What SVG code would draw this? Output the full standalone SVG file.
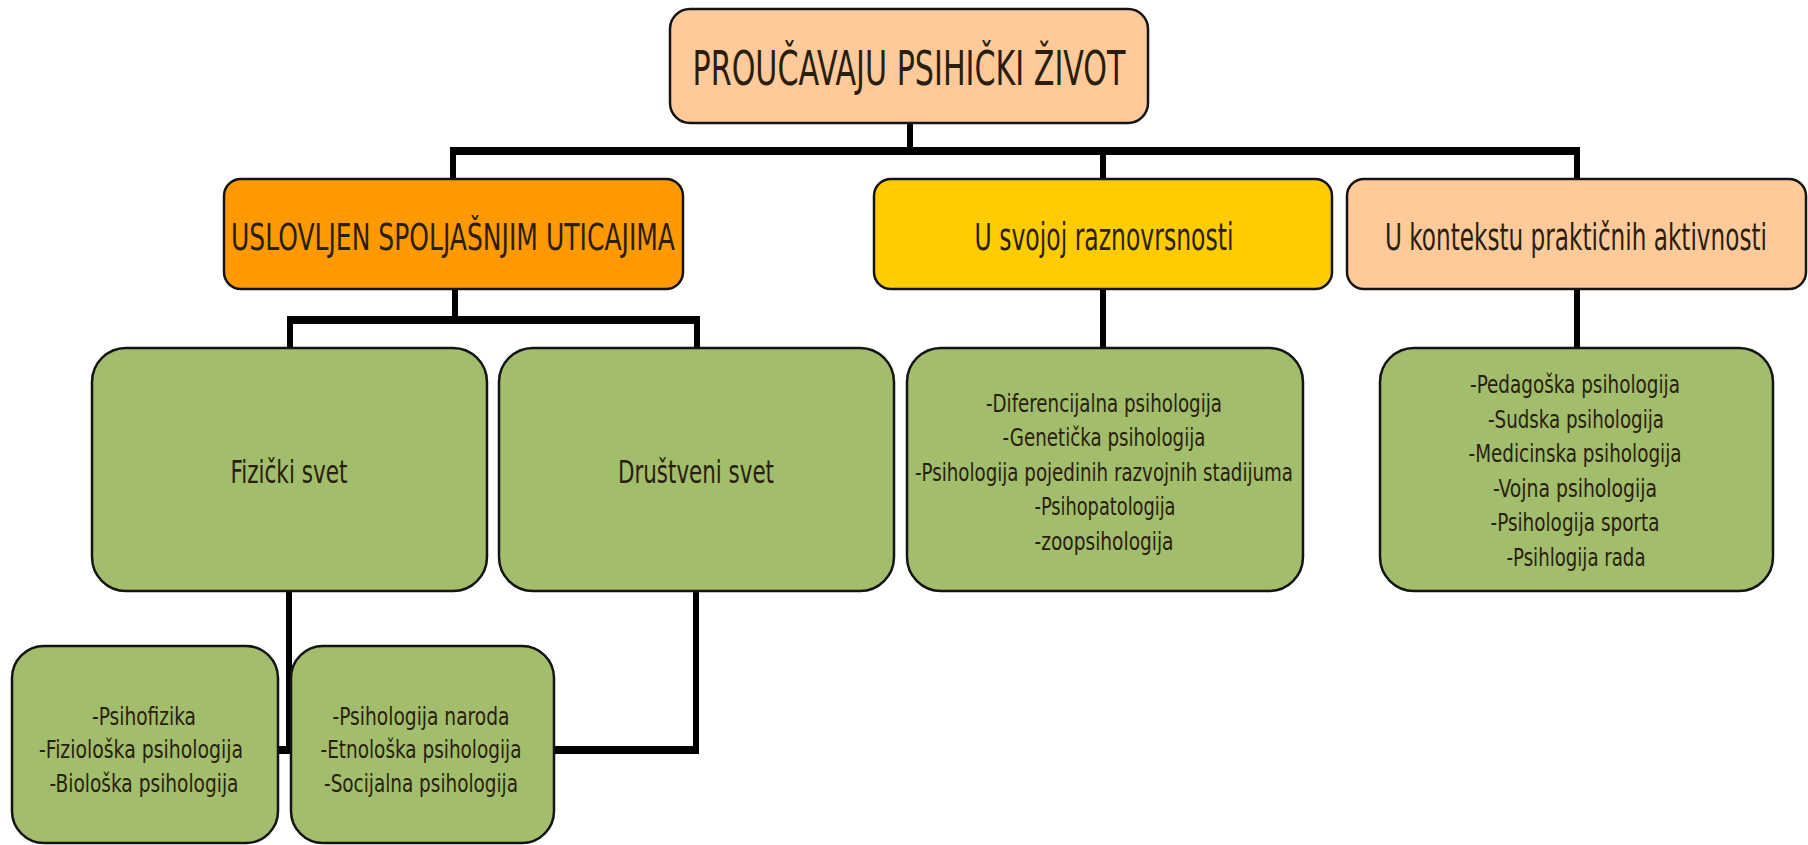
<svg xmlns="http://www.w3.org/2000/svg" width="1808" height="845" viewBox="0 0 1808 845">
<style>
.box{stroke:#141414;stroke-width:2.5}
.peach{fill:#FFCA99}
.orange{fill:#FF9900}
.yellow{fill:#FFCC00}
.green{fill:#A2BD6B}
text{font-family:"DejaVu Sans Condensed","DejaVu Sans","Liberation Sans",sans-serif;fill:#2a1e0e;text-anchor:middle}
.t1{font-size:48px}
.t2{font-size:37px}
.t2s{font-size:25px}
.t3{font-size:32px}
.t4{font-size:24px}
.h{stroke:#000;stroke-width:8;fill:none}
.v{stroke:#000;stroke-width:6;fill:none}
</style>
<g id="connectors">
<line class="v" x1="910" y1="122" x2="910" y2="151"/>
<line class="h" x1="450" y1="151" x2="1580" y2="151"/>
<line class="v" x1="453" y1="151" x2="453" y2="179"/>
<line class="v" x1="1103" y1="151" x2="1103" y2="179"/>
<line class="v" x1="1577" y1="151" x2="1577" y2="179"/>
<line class="v" x1="455" y1="289" x2="455" y2="320"/>
<line class="h" x1="287" y1="320" x2="700" y2="320"/>
<line class="v" x1="290" y1="320" x2="290" y2="348"/>
<line class="v" x1="697" y1="320" x2="697" y2="348"/>
<line class="v" x1="1103" y1="289" x2="1103" y2="348"/>
<line class="v" x1="1577" y1="289" x2="1577" y2="348"/>
<line class="v" x1="289" y1="590" x2="289" y2="754"/>
<line class="h" x1="277" y1="750" x2="292" y2="750"/>
<line class="v" x1="696" y1="590" x2="696" y2="754"/>
<line class="h" x1="553" y1="750" x2="699" y2="750"/>
</g>
<g id="root">
<rect class="box peach" x="670" y="9" width="478" height="114" rx="20"/>
<text class="t1" x="909" y="85" textLength="433" lengthAdjust="spacingAndGlyphs">PROUČAVAJU PSIHIČKI ŽIVOT</text>
</g>
<g id="uslovljen">
<rect class="box orange" x="224" y="179" width="459" height="110" rx="17"/>
<text class="t2" x="453" y="250" textLength="444" lengthAdjust="spacingAndGlyphs">USLOVLJEN SPOLJAŠNJIM UTICAJIMA</text>
</g>
<g id="raznovrsnost">
<rect class="box yellow" x="874" y="179" width="458" height="110" rx="17"/>
<text class="t2" x="1104" y="250" textLength="259" lengthAdjust="spacingAndGlyphs">U svojoj raznovrsnosti</text>
</g>
<g id="kontekst">
<rect class="box peach" x="1347" y="179" width="459" height="110" rx="17"/>
<text class="t2s" transform="matrix(1 0 0 1.48 1576 250)" x="0" y="0" textLength="382" lengthAdjust="spacingAndGlyphs">U kontekstu praktičnih aktivnosti</text>
</g>
<g id="fizicki">
<rect class="box green" x="92" y="348" width="395" height="243" rx="34"/>
<text class="t3" x="289" y="483" textLength="117" lengthAdjust="spacingAndGlyphs">Fizički svet</text>
</g>
<g id="drustveni">
<rect class="box green" x="499" y="348" width="395" height="243" rx="34"/>
<text class="t3" x="696" y="483" textLength="156" lengthAdjust="spacingAndGlyphs">Društveni svet</text>
</g>
<g id="raznovrsnost-list">
<rect class="box green" x="907" y="348" width="396" height="243" rx="34"/>
<text class="t4" x="1104" y="412" textLength="236" lengthAdjust="spacingAndGlyphs">-Diferencijalna psihologija</text>
<text class="t4" x="1104" y="446" textLength="203" lengthAdjust="spacingAndGlyphs">-Genetička psihologija</text>
<text class="t4" x="1104" y="481" textLength="378" lengthAdjust="spacingAndGlyphs">-Psihologija pojedinih razvojnih stadijuma</text>
<text class="t4" x="1105" y="515" textLength="141" lengthAdjust="spacingAndGlyphs">-Psihopatologija</text>
<text class="t4" x="1104" y="550" textLength="139" lengthAdjust="spacingAndGlyphs">-zoopsihologija</text>
</g>
<g id="kontekst-list">
<rect class="box green" x="1380" y="348" width="393" height="243" rx="34"/>
<text class="t4" x="1575" y="393" textLength="210" lengthAdjust="spacingAndGlyphs">-Pedagoška psihologija</text>
<text class="t4" x="1576" y="428" textLength="176" lengthAdjust="spacingAndGlyphs">-Sudska psihologija</text>
<text class="t4" x="1575" y="462" textLength="213" lengthAdjust="spacingAndGlyphs">-Medicinska psihologija</text>
<text class="t4" x="1575" y="497" textLength="164" lengthAdjust="spacingAndGlyphs">-Vojna psihologija</text>
<text class="t4" x="1575" y="531" textLength="169" lengthAdjust="spacingAndGlyphs">-Psihologija sporta</text>
<text class="t4" x="1576" y="566" textLength="139" lengthAdjust="spacingAndGlyphs">-Psihlogija rada</text>
</g>
<g id="fizicki-list">
<rect class="box green" x="12" y="646" width="266" height="197" rx="32"/>
<text class="t4" x="144" y="725" textLength="104" lengthAdjust="spacingAndGlyphs">-Psihofizika</text>
<text class="t4" x="141" y="758" textLength="204" lengthAdjust="spacingAndGlyphs">-Fiziološka psihologija</text>
<text class="t4" x="144" y="792" textLength="189" lengthAdjust="spacingAndGlyphs">-Biološka psihologija</text>
</g>
<g id="drustveni-list">
<rect class="box green" x="291" y="646" width="263" height="197" rx="32"/>
<text class="t4" x="421" y="725" textLength="177" lengthAdjust="spacingAndGlyphs">-Psihologija naroda</text>
<text class="t4" x="421" y="758" textLength="201" lengthAdjust="spacingAndGlyphs">-Etnološka psihologija</text>
<text class="t4" x="421" y="792" textLength="194" lengthAdjust="spacingAndGlyphs">-Socijalna psihologija</text>
</g>
</svg>
